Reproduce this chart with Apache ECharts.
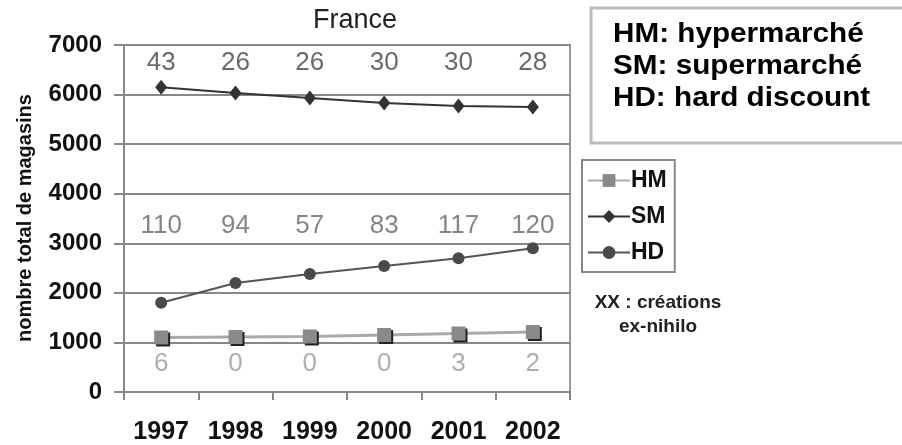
<!DOCTYPE html>
<html>
<head>
<meta charset="utf-8">
<script src="https://cdn.jsdelivr.net/npm/echarts@6/dist/echarts.min.js"></script>
<style>
html,body{margin:0;padding:0;background:#fff;}
#c{width:902px;height:445px;}
</style>
</head>
<body>
<div id="c"></div>
<script>
// ---- data ----
var years = ['1997', '1998', '1999', '2000', '2001', '2002'];
var hmValues = [1100, 1110, 1120, 1150, 1180, 1210];
var smValues = [6150, 6030, 5930, 5830, 5770, 5750];
var hdValues = [1800, 2200, 2380, 2540, 2700, 2900];
// créations ex-nihilo per year
var hmNew = [6, 0, 0, 0, 3, 2];
var smNew = [43, 26, 26, 30, 30, 28];
var hdNew = [110, 94, 57, 83, 117, 120];
var yTicks = [0, 1000, 2000, 3000, 4000, 5000, 6000, 7000];
var seriesNames = ['HM', 'SM', 'HD'];
var infoLines = ['HM: hypermarché', 'SM: supermarché', 'HD: hard discount'];
var noteText = 'XX : créations\nex-nihilo';
var titleText = 'France';
var yAxisTitle = 'nombre total de magasins';

// ---- chart ----
var chart = echarts.init(document.getElementById('c'), null, {renderer: 'canvas'});
var FONT = 'Liberation Sans, Arial, sans-serif';

function annot(values, yPos, color) {
  return {
    type: 'scatter',
    silent: true,
    symbolSize: 1,
    itemStyle: {color: 'rgba(0,0,0,0)'},
    data: values.map(function (v, i) { return [years[i], yPos]; }),
    label: {
      show: true,
      position: 'inside',
      formatter: function (p) { return String(values[p.dataIndex]); },
      color: color,
      fontFamily: FONT,
      fontSize: 26
    },
    z: 5
  };
}

var option = {
  backgroundColor: '#ffffff',
  animation: false,
  title: {
    text: titleText,
    left: 350,
    top: 2,
    textAlign: 'center',
    textStyle: {fontFamily: FONT, fontSize: 27, fontWeight: 'normal', color: '#222'}
  },
  grid: {
    left: 124,
    right: 332,
    top: 45,
    bottom: 53,
    show: true,
    borderColor: '#999',
    borderWidth: 2,
    backgroundColor: 'transparent'
  },
  legend: {
    orient: 'vertical',
    left: 582,
    top: 160,
    data: seriesNames,
    padding: [9, 8, 8, 5],
    itemGap: 13,
    itemWidth: 42,
    itemHeight: 16,
    borderColor: '#888',
    borderWidth: 2,
    textStyle: {fontFamily: FONT, fontSize: 23, fontWeight: 'bold', color: '#111', padding: [0, 0, 0, -4]}
  },
  xAxis: {
    type: 'category',
    data: years,
    boundaryGap: true,
    axisLine: {lineStyle: {color: '#888', width: 2}},
    axisTick: {show: true, alignWithLabel: false, length: 8, lineStyle: {color: '#888', width: 2}},
    axisLabel: {margin: 28, fontFamily: FONT, fontSize: 25, fontWeight: 'bold', color: '#111'},
    splitLine: {show: false}
  },
  yAxis: {
    type: 'value',
    min: yTicks[0],
    max: yTicks[yTicks.length - 1],
    interval: 1000,
    axisLine: {show: true, lineStyle: {color: '#888', width: 2}},
    axisTick: {show: true, length: 10, lineStyle: {color: '#888', width: 2}},
    axisLabel: {
      margin: 22,
      fontFamily: FONT,
      fontSize: 24,
      fontWeight: 'bold',
      color: '#111',
      formatter: function (v) { return String(v); }
    },
    splitLine: {show: true, lineStyle: {color: '#888', width: 2}}
  },
  graphic: [
    {
      type: 'text',
      x: 25, y: 218,
      rotation: Math.PI / 2,
      style: {text: yAxisTitle, fontFamily: FONT, fontSize: 20, fontWeight: 'bold', fill: '#111', align: 'center', verticalAlign: 'middle'}
    },
    {
      type: 'rect',
      shape: {x: 591, y: 8, width: 340, height: 135},
      style: {fill: '#fff', stroke: '#bbb', lineWidth: 3}
    },
    {
      type: 'text', x: 613, y: 34, scaleX: 1.06,
      style: {text: infoLines[0], fontFamily: FONT, fontSize: 28, fontWeight: 'bold', fill: '#000', verticalAlign: 'middle'}
    },
    {
      type: 'text', x: 613, y: 66, scaleX: 1.06,
      style: {text: infoLines[1], fontFamily: FONT, fontSize: 28, fontWeight: 'bold', fill: '#000', verticalAlign: 'middle'}
    },
    {
      type: 'text', x: 613, y: 98, scaleX: 1.06,
      style: {text: infoLines[2], fontFamily: FONT, fontSize: 28, fontWeight: 'bold', fill: '#000', verticalAlign: 'middle'}
    },
    {
      type: 'text', x: 658, y: 315,
      style: {text: noteText, fontFamily: FONT, fontSize: 19, fontWeight: 'bold', fill: '#222', align: 'center', verticalAlign: 'middle', lineHeight: 24}
    }
  ],
  series: [
    {
      name: 'HM',
      type: 'line',
      data: hmValues,
      symbol: 'rect',
      symbolSize: 14,
      lineStyle: {color: '#aaa', width: 3},
      itemStyle: {color: '#8a8a8a', shadowColor: '#222', shadowOffsetX: 2, shadowOffsetY: 2, shadowBlur: 0},
      z: 3
    },
    {
      name: 'SM',
      type: 'line',
      data: smValues,
      symbol: 'diamond',
      symbolSize: [12, 15],
      lineStyle: {color: '#333', width: 2},
      itemStyle: {color: '#333'},
      z: 3
    },
    {
      name: 'HD',
      type: 'line',
      data: hdValues,
      symbol: 'circle',
      symbolSize: 12,
      lineStyle: {color: '#555', width: 2},
      itemStyle: {color: '#4a4a4a'},
      z: 3
    },
    annot(smNew, 6650, '#444'),
    annot(hdNew, 3350, '#666'),
    annot(hmNew, 570, '#9a9a9a')
  ]
};
chart.setOption(option);
</script>
</body>
</html>
